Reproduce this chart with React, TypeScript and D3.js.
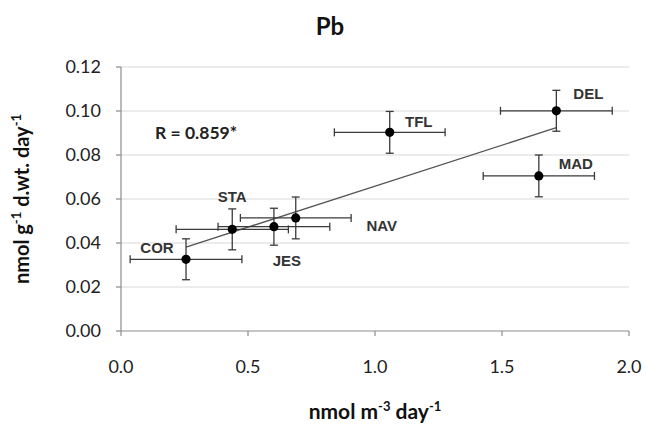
import * as d3 from "d3";
import React from "react";

// Sites and their values (x: air flux, y: moss uptake)
const sites = ["COR", "STA", "JES", "NAV", "TFL", "DEL", "MAD"];
const xValues = [0.256, 0.438, 0.602, 0.688, 1.058, 1.714, 1.645];
const yValues = [0.0326, 0.0462, 0.0474, 0.0514, 0.0903, 0.1001, 0.0705];
const xErrors = [0.22, 0.221, 0.22, 0.218, 0.218, 0.22, 0.219];
const yErrors = [0.0093, 0.0093, 0.0084, 0.0095, 0.0095, 0.0093, 0.0095];

const xTicks = [0, 0.5, 1.0, 1.5, 2.0];
const yTicks = [0, 0.02, 0.04, 0.06, 0.08, 0.1, 0.12];

// label placement relative to the point (px)
const labelOffsets = [
  [-29, -12],
  [0, -33],
  [13, 34],
  [86, 8],
  [29, -11],
  [32, -17],
  [37, -12]
];

export default function App() {
  const width = 646;
  const height = 425;
  const marginLeft = 121;
  const marginRight = 17;
  const marginTop = 67;
  const marginBottom = 94;

  const x = d3
    .scaleLinear()
    .domain([0, 2])
    .range([marginLeft, width - marginRight]);

  const y = d3
    .scaleLinear()
    .domain([0, 0.12])
    .range([height - marginBottom, marginTop]);

  // least squares trend line
  const mx = d3.mean(xValues) as number;
  const my = d3.mean(yValues) as number;
  const sxy = d3.sum(xValues, (v, i) => (v - mx) * (yValues[i] - my));
  const sxx = d3.sum(xValues, (v) => (v - mx) ** 2);
  const syy = d3.sum(yValues, (v) => (v - my) ** 2);
  const slope = sxy / sxx;
  const intercept = my - slope * mx;
  const r = sxy / Math.sqrt(sxx * syy);
  const [xMin, xMax] = d3.extent(xValues) as [number, number];
  const trend = d3
    .line<number>()
    .x((d) => x(d))
    .y((d) => y(intercept + slope * d));

  const axisColor = "#8c8c8c";
  const barColor = "#3a3a3a";
  const tickFont = "Lato, 'Open Sans', sans-serif";
  const boldFont = "'Liberation Sans', Arial, sans-serif";

  return (
    <svg
      width={width}
      height={height}
      style={{ position: "absolute", left: 0, top: 0, background: "#fff" }}
    >
      {/* title */}
      <text
        x={330}
        y={35}
        textAnchor="middle"
        fontFamily={tickFont}
        fontWeight="bold"
        fontSize={24}
        fill="#111"
      >
        Pb
      </text>

      {/* gridlines */}
      <g stroke="#d9d9d9" strokeWidth={1}>
        {yTicks.slice(1).map((t) => (
          <line key={t} x1={x(0)} x2={x(2)} y1={y(t)} y2={y(t)} />
        ))}
      </g>

      {/* axes */}
      <g stroke={axisColor} strokeWidth={1.2}>
        <line x1={x(0)} x2={x(0)} y1={y(0)} y2={y(0.12)} />
        <line x1={x(0)} x2={x(2)} y1={y(0)} y2={y(0)} />
        {yTicks.map((t) => (
          <line key={t} x1={x(0) - 5} x2={x(0)} y1={y(t)} y2={y(t)} />
        ))}
        {xTicks.map((t) => (
          <line key={t} x1={x(t)} x2={x(t)} y1={y(0)} y2={y(0) + 5} />
        ))}
      </g>

      <g fontFamily={tickFont} fontSize={18} fill="#222">
        {yTicks.map((t) => (
          <text key={t} x={x(0) - 20} y={y(t)} dy="0.35em" textAnchor="end">
            {d3.format(".2f")(t)}
          </text>
        ))}
        {xTicks.map((t) => (
          <text key={t} x={x(t)} y={y(0) + 36} dy="0.35em" textAnchor="middle">
            {d3.format(".1f")(t)}
          </text>
        ))}
      </g>

      {/* axis titles */}
      <text
        x={375}
        y={419}
        textAnchor="middle"
        fontFamily={tickFont}
        fontWeight="bold"
        fontSize={21}
        fill="#111"
      >
        nmol m
        <tspan dy={-8} fontSize={13}>-3</tspan>
        <tspan dy={8}> day</tspan>
        <tspan dy={-8} fontSize={13}>-1</tspan>
      </text>
      <text
        transform={`translate(29,${(y(0) + y(0.12)) / 2}) rotate(-90)`}
        textAnchor="middle"
        fontFamily={tickFont}
        fontWeight="bold"
        fontSize={20}
        fill="#111"
      >
        nmol g
        <tspan dy={-8} fontSize={13}>-1</tspan>
        <tspan dy={8}> d.wt. day</tspan>
        <tspan dy={-8} fontSize={13}>-1</tspan>
      </text>

      {/* trend line */}
      <path
        d={trend([xMin, xMax]) as string}
        fill="none"
        stroke="#555"
        strokeWidth={1.3}
      />

      {/* error bars */}
      <g stroke={barColor} strokeWidth={1.3}>
        {sites.map((s, i) => {
          const cx = x(xValues[i]);
          const cy = y(yValues[i]);
          const x0 = x(xValues[i] - xErrors[i]);
          const x1 = x(xValues[i] + xErrors[i]);
          const y0 = y(yValues[i] - yErrors[i]);
          const y1 = y(yValues[i] + yErrors[i]);
          return (
            <g key={s}>
              <line x1={x0} x2={x1} y1={cy} y2={cy} />
              <line x1={x0} x2={x0} y1={cy - 4} y2={cy + 4} />
              <line x1={x1} x2={x1} y1={cy - 4} y2={cy + 4} />
              <line x1={cx} x2={cx} y1={y0} y2={y1} />
              <line x1={cx - 4} x2={cx + 4} y1={y0} y2={y0} />
              <line x1={cx - 4} x2={cx + 4} y1={y1} y2={y1} />
            </g>
          );
        })}
      </g>

      {/* points */}
      <g fill="#000">
        {sites.map((s, i) => (
          <circle key={s} cx={x(xValues[i])} cy={y(yValues[i])} r={4.6} />
        ))}
      </g>

      {/* site labels */}
      <g fontFamily={boldFont} fontWeight="bold" fontSize={15} fill="#333">
        {sites.map((s, i) => (
          <text
            key={s}
            x={x(xValues[i]) + labelOffsets[i][0]}
            y={y(yValues[i]) + labelOffsets[i][1]}
            dy="0.35em"
            textAnchor="middle"
          >
            {s}
          </text>
        ))}
      </g>

      <text
        x={155}
        y={133}
        dy="0.35em"
        fontFamily={tickFont}
        fontWeight="bold"
        fontSize={17.5}
        fill="#222"
      >
        R = {d3.format(".3f")(r)}*
      </text>
    </svg>
  );
}
